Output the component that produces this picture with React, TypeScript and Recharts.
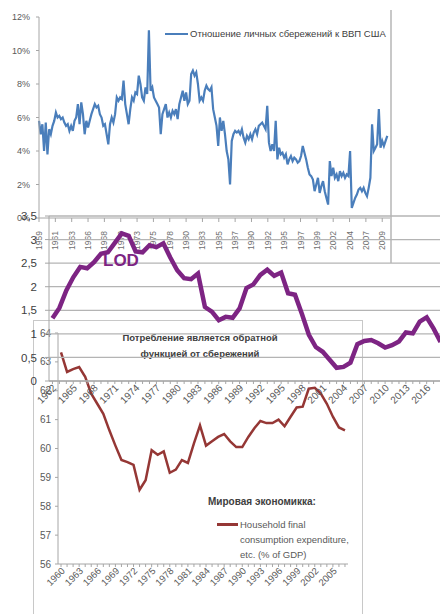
import { LineChart, Line, XAxis, YAxis, CartesianGrid } from "recharts";

const FONT = "'Liberation Sans', Arial, sans-serif";

// US personal saving to GDP, %, quarterly from 1959 Q1
const SAVING_RATE = [
  5.8, 5.0, 5.6, 4.0, 5.7, 3.8, 5.3, 5.0,
  5.5, 5.8, 6.3, 6.0, 6.1, 5.9, 6.0, 5.7,
  5.5, 5.6, 5.2, 5.5, 5.2, 5.8, 6.0, 6.8,
  5.6, 6.9, 6.2, 5.0, 5.8, 5.4, 5.8, 6.2,
  6.5, 6.8, 6.6, 6.7, 6.2, 6.0, 5.5, 5.6,
  5.0, 4.4, 5.6, 6.0, 5.7, 6.2, 7.2, 7.0,
  7.2, 7.1, 8.2, 6.8, 6.2, 5.6, 6.5, 7.2,
  7.0, 7.5, 7.4, 8.5, 8.0, 7.2, 7.0, 7.8,
  7.4, 11.2, 7.6, 7.8, 7.2, 7.0, 6.8, 6.6,
  5.0, 6.2, 6.5, 6.8, 6.0, 6.3, 6.0, 6.4,
  6.2, 6.5, 5.9, 6.8, 7.2, 7.6, 7.0, 7.5,
  6.8, 7.0, 8.6, 8.8, 8.5, 8.7, 8.0, 7.0,
  7.2, 7.0, 7.6, 7.9, 7.7, 7.6, 7.8, 6.5,
  6.0, 5.5, 4.3, 6.0, 5.2, 5.8, 5.0, 4.0,
  3.5, 2.0, 4.6, 5.0, 5.2, 5.1, 5.2, 5.0,
  5.3, 4.8, 4.5, 4.9, 4.7, 5.0, 4.7, 5.1,
  5.3, 5.0, 5.5, 5.6, 5.7, 5.5, 5.3, 6.7,
  4.5, 4.0, 4.4, 4.0, 5.8, 3.5, 4.2, 3.8,
  3.9, 3.6, 3.8, 3.2, 3.5, 3.7, 3.4, 3.6,
  3.5, 3.3, 3.4, 3.7, 4.3, 3.9, 3.5, 3.0,
  2.6, 2.5, 2.3, 1.6, 2.0, 2.4, 1.5, 1.9,
  2.2, 1.6, 1.2, 0.8, 3.4, 2.5, 3.0, 2.4,
  2.6, 2.2, 2.8, 2.5, 2.7, 2.4, 2.6, 2.5,
  4.0, 0.6, 0.9, 1.2, 1.4, 1.7, 1.8, 1.6,
  1.8, 1.5, 1.3, 1.8, 2.4, 5.6, 4.0, 4.2,
  4.4, 6.5, 4.2, 4.6, 4.3, 4.6, 4.9,
];
const SAVING_TICK_LABELS = [
  1959, 1961, 1963, 1966, 1968, 1970, 1973, 1975, 1978, 1980, 1983,
  1985, 1987, 1990, 1992, 1995, 1997, 1999, 2002, 2004, 2007, 2009,
];
const SAVING_Y_TICKS = [0, 2, 4, 6, 8, 10, 12];

// length of day excess, ms, yearly from 1962
const LOD_START = 1962;
const LOD_VALUES = [
  1.33, 1.55, 1.92, 2.2, 2.42, 2.39, 2.52, 2.7, 2.73, 2.93,
  3.13, 3.08, 2.75, 2.73, 2.88, 2.84, 2.92, 2.62, 2.35, 2.18,
  2.16, 2.28, 1.57, 1.47, 1.29, 1.36, 1.34, 1.54, 1.97, 2.05,
  2.25, 2.36, 2.23, 2.3, 1.86, 1.83, 1.42, 0.98, 0.72, 0.62,
  0.45, 0.28, 0.3, 0.39, 0.78, 0.85, 0.87, 0.8, 0.71, 0.76,
  0.84, 1.03, 1.01, 1.26, 1.35, 1.11, 0.83,
];
const LOD_LABEL_YEARS = [
  1962, 1965, 1968, 1971, 1974, 1977, 1980, 1983, 1986, 1989,
  1992, 1995, 1998, 2001, 2004, 2007, 2010, 2013, 2016,
];
const LOD_Y_TICKS = [0, 0.5, 1, 1.5, 2, 2.5, 3, 3.5];

// household final consumption, % of GDP, yearly from 1960
const CONS_START = 1960;
const CONSUMPTION = [
  63.33, 62.65, 62.75, 62.82, 62.48, 61.9, 61.55, 61.2, 60.63, 60.1,
  59.6, 59.53, 59.43, 58.57, 58.9, 59.94, 59.78, 59.9, 59.16, 59.27,
  59.6, 59.5, 60.18, 60.8, 60.1, 60.25, 60.4, 60.5, 60.25, 60.05,
  60.05, 60.4, 60.7, 60.95, 60.88, 60.88, 61.0, 60.77, 61.1, 61.42,
  61.45, 62.07, 62.1, 61.9, 61.55, 61.1, 60.73, 60.63,
];
const CONS_Y_TICKS = [56, 57, 58, 59, 60, 61, 62, 63, 64];

const savingData = SAVING_RATE.map((v, i) => ({ t: 1959 + i / 4, v }));
const savingTicks = SAVING_TICK_LABELS.map((_, i) => 1959 + (i * 29) / 12);
const lodData = LOD_VALUES.map((v, i) => ({ year: LOD_START + i, v }));
const lodYears = lodData.map((d) => d.year);
const consData = CONSUMPTION.map((v, i) => ({ year: CONS_START + i, v }));
const consYears = consData.map((d) => d.year);

const AXIS = "#a6a6a6";
const GRID = "#b4b4b4";
const BLUE = "#4a7ebb";
const BROWN = "#953735";
const PURPLE = "#7d2483";

function SavingTick({ x, y, payload, index }: any) {
  const ty = y + 7;
  return (
    <text
      x={x}
      y={ty}
      transform={`rotate(-90, ${x}, ${ty})`}
      textAnchor="end"
      dominantBaseline="central"
      fontSize={8.5}
      fontFamily={FONT}
      fill="#6f6f6f"
    >
      {SAVING_TICK_LABELS[index] ?? Math.floor(payload.value)}
    </text>
  );
}

function SlantTick({ x, y, payload, labels, size, fill }: any) {
  if (!labels.includes(payload.value)) return null;
  return (
    <text
      x={x + 2}
      y={y}
      transform={`rotate(-45, ${x + 2}, ${y})`}
      textAnchor="end"
      dominantBaseline="central"
      fontSize={size}
      fontFamily={FONT}
      fill={fill}
    >
      {payload.value}
    </text>
  );
}

const consLabels = consYears.filter((y) => (y - CONS_START) % 3 === 0 && y <= 2005);

export default function App() {
  return (
    <div
      style={{
        position: "fixed",
        left: 0,
        top: 0,
        width: 440,
        height: 614,
        overflow: "hidden",
        background: "#fff",
        fontFamily: FONT,
      }}
    >
      {/* US saving chart */}
      <div style={{ position: "absolute", left: 0, top: 0 }}>
        <LineChart width={400} height={265} data={savingData} margin={{ top: 17, right: 10, left: 0, bottom: 0 }}>
          <XAxis
            type="number"
            dataKey="t"
            domain={[1959, 2010.9]}
            ticks={savingTicks}
            interval={0}
            height={47}
            stroke={AXIS}
            tickSize={4}
            tick={(p: any) => <SavingTick {...p} />}
          />
          <YAxis
            domain={[0, 12]}
            ticks={SAVING_Y_TICKS}
            width={39}
            stroke={AXIS}
            tickSize={3}
            tickMargin={6}
            tick={{ fontSize: 9, fill: "#595959", fontFamily: FONT }}
            tickFormatter={(v: number) => `${v}%`}
          />
          <Line
            type="linear"
            dataKey="v"
            stroke={BLUE}
            strokeWidth={2.2}
            dot={false}
            isAnimationActive={false}
          />
        </LineChart>
      </div>
      <div
        style={{
          position: "absolute",
          left: 0,
          top: 10,
          width: 390,
          height: 253,
          borderRight: "2px solid #c8c8c8",
        }}
      />
      <div style={{ position: "absolute", left: 165, top: 33, width: 23, height: 2, background: BLUE }} />
      <div style={{ position: "absolute", left: 190, top: 28, fontSize: 9.5, color: "#404040", whiteSpace: "nowrap" }}>
        Отношение личных сбережений к ВВП США
      </div>

      {/* consumption chart */}
      <div
        style={{
          position: "absolute",
          left: 33,
          top: 320,
          width: 328,
          height: 320,
          border: "1px solid #c8c8c8",
          background: "#fff",
        }}
      />
      <div style={{ position: "absolute", left: 33, top: 320 }}>
        <LineChart width={329} height={294} data={consData} margin={{ top: 13, right: 14, left: 0, bottom: 0 }}>
          <XAxis
            type="number"
            dataKey="year"
            domain={[1959.5, 2007.5]}
            ticks={consYears}
            interval={0}
            height={50}
            stroke={AXIS}
            tickSize={3}
            tick={(p: any) => <SlantTick {...p} labels={consLabels} size={9.5} fill="#595959" />}
          />
          <YAxis
            domain={[56, 64]}
            ticks={CONS_Y_TICKS}
            width={25}
            stroke={AXIS}
            tickSize={3}
            tickMargin={4}
            tick={{ fontSize: 10, fill: "#595959", fontFamily: FONT }}
          />
          <Line
            type="linear"
            dataKey="v"
            stroke={BROWN}
            strokeWidth={2.5}
            dot={false}
            isAnimationActive={false}
          />
        </LineChart>
      </div>
      <div
        style={{
          position: "absolute",
          left: 100,
          top: 330,
          width: 200,
          textAlign: "center",
          fontSize: 9.5,
          fontWeight: 700,
          color: "#404040",
          lineHeight: "16px",
        }}
      >
        Потребление является обратной
        <br />
        функцией от сбережений
      </div>
      <div style={{ position: "absolute", left: 208, top: 496, fontSize: 10, fontWeight: 700, color: "#404040", whiteSpace: "nowrap" }}>
        Мировая экономикка:
      </div>
      <div style={{ position: "absolute", left: 217, top: 523, width: 21, height: 2.5, background: BROWN }} />
      <div
        style={{
          position: "absolute",
          left: 240,
          top: 517,
          fontSize: 9.5,
          color: "#595959",
          lineHeight: "15px",
          whiteSpace: "nowrap",
        }}
      >
        Household final
        <br />
        consumption expenditure,
        <br />
        etc. (% of GDP)
      </div>

      {/* LOD chart, transparent, on top */}
      <div style={{ position: "absolute", left: 0, top: 200 }}>
        <LineChart width={460} height={220} data={lodData} margin={{ top: 16, right: 16, left: 0, bottom: 0 }}>
          <CartesianGrid vertical={false} stroke={GRID} strokeWidth={1.3} />
          <XAxis
            type="number"
            dataKey="year"
            domain={[1961.5, 2018.5]}
            ticks={lodYears}
            interval={0}
            height={39}
            stroke={AXIS}
            tickSize={3}
            tick={(p: any) => <SlantTick {...p} labels={LOD_LABEL_YEARS} size={10} fill="#595959" />}
          />
          <YAxis
            domain={[0, 3.5]}
            ticks={LOD_Y_TICKS}
            width={49}
            stroke={AXIS}
            tickSize={4}
            tickMargin={8}
            tick={{ fontSize: 11.5, fill: "#404040", fontFamily: FONT }}
            tickFormatter={(v: number) => String(v).replace(".", ",")}
          />
          <Line
            type="linear"
            dataKey="v"
            stroke={PURPLE}
            strokeWidth={4.5}
            dot={false}
            isAnimationActive={false}
          />
        </LineChart>
      </div>
      <div
        style={{
          position: "absolute",
          left: 103,
          top: 252,
          fontSize: 17,
          fontWeight: 700,
          color: PURPLE,
          lineHeight: 1,
        }}
      >
        LOD
      </div>
    </div>
  );
}
